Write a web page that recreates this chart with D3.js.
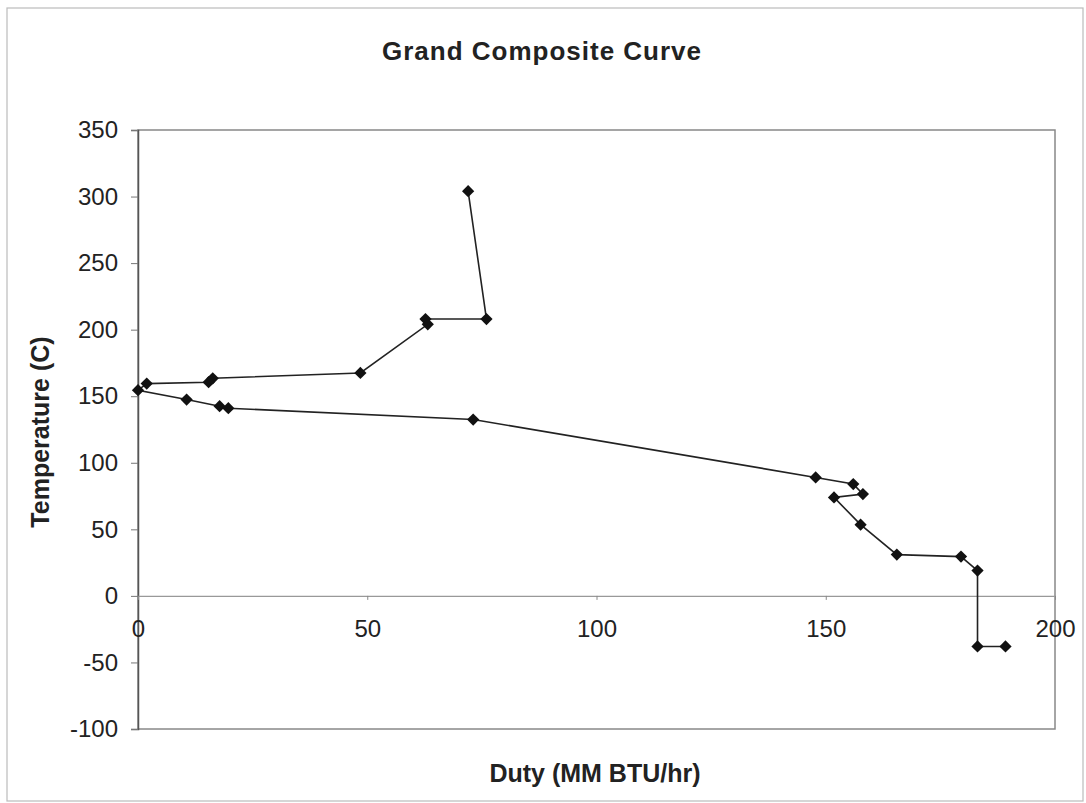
<!DOCTYPE html>
<html>
<head>
<meta charset="utf-8">
<script src="https://cdn.jsdelivr.net/npm/d3@7"></script>
<style>
  body { margin: 0; background: #fff; }
  text { font-family: "Liberation Sans", Arial, sans-serif; fill: #222; }
</style>
</head>
<body>
<div id="chart"></div>
<script>
// duty (MM BTU/hr) and temperature (C), in path order
const duty = [72, 76, 62.7, 63.2, 48.5, 16.3, 15.4, 1.9, 0, 10.6, 17.8, 19.7, 73.1,
    147.8, 156, 158.1, 151.8, 157.6, 165.5, 179.5, 183.1, 183.1, 189.2];
const temp = [304, 208, 208, 204, 167.5, 163.5, 160.5, 159.5, 154.5, 147.5, 142.5, 141, 132.5,
    89, 84, 76.5, 74, 53.5, 31, 29.5, 19, -38, -38];
const xTicks = [0, 50, 100, 150, 200];
const yTicks = [-100, -50, 0, 50, 100, 150, 200, 250, 300, 350];

const W = 1086, H = 803;
const plot = { left: 138, right: 1055, top: 130, bottom: 729 };

const svg = d3.select('#chart')
    .append('svg')
    .attr('width', W)
    .attr('height', H);

// outer chart frame
svg.append('rect')
    .attr('x', 7).attr('y', 8)
    .attr('width', 1076).attr('height', 793)
    .attr('fill', 'none')
    .attr('stroke', '#bbb')
    .attr('stroke-width', 1.2);

const x = d3.scaleLinear().domain([0, 200]).range([plot.left, plot.right]);
const y = d3.scaleLinear().domain([-100, 350]).range([plot.bottom, plot.top]);

// plot area border
svg.append('rect')
    .attr('x', plot.left).attr('y', plot.top)
    .attr('width', plot.right - plot.left)
    .attr('height', plot.bottom - plot.top)
    .attr('fill', 'none')
    .attr('stroke', '#888')
    .attr('stroke-width', 1.5);

const fmt = d => String(d); // plain hyphen for negatives

// y axis on the left
const yAxis = svg.append('g')
    .attr('transform', `translate(${plot.left},0)`)
    .call(d3.axisLeft(y).tickValues(yTicks).tickFormat(fmt).tickSize(7).tickPadding(13));
yAxis.select('.domain').attr('stroke', '#555').attr('stroke-width', 1.5);
yAxis.selectAll('.tick line').attr('stroke', '#777');
yAxis.selectAll('.tick text')
    .attr('font-size', 24)
    .attr('fill', '#222')
    .attr('font-family', '"Liberation Sans", Arial, sans-serif');

// x axis crosses at temperature 0
const xAxis = svg.append('g')
    .attr('transform', `translate(0,${y(0)})`)
    .call(d3.axisBottom(x).tickValues(xTicks).tickFormat(fmt).tickSize(4).tickPadding(20).tickSizeOuter(0));
xAxis.select('.domain').attr('stroke', '#999').attr('stroke-width', 1.2);
xAxis.selectAll('.tick line').attr('stroke', '#888');
xAxis.selectAll('.tick text')
    .attr('font-size', 24)
    .attr('fill', '#222')
    .attr('font-family', '"Liberation Sans", Arial, sans-serif');

const pts = duty.map((d, i) => [d, temp[i]]);

svg.append('path')
    .datum(pts)
    .attr('fill', 'none')
    .attr('stroke', '#222')
    .attr('stroke-width', 1.6)
    .attr('d', d3.line().x(d => x(d[0])).y(d => y(d[1])));

const diamond = d3.symbol().type(d3.symbolSquare).size(75);
svg.selectAll('path.pt')
    .data(pts)
    .join('path')
    .attr('class', 'pt')
    .attr('d', diamond)
    .attr('fill', '#111')
    .attr('transform', d => `translate(${x(d[0])},${y(d[1])}) rotate(45)`);

// titles
svg.append('text')
    .attr('x', 542).attr('y', 60)
    .attr('text-anchor', 'middle')
    .attr('font-size', 26)
    .attr('font-weight', 'bold')
    .attr('letter-spacing', 1)
    .text('Grand Composite Curve');

svg.append('text')
    .attr('x', 595).attr('y', 782)
    .attr('text-anchor', 'middle')
    .attr('font-size', 25)
    .attr('font-weight', 'bold')
    .text('Duty (MM BTU/hr)');

svg.append('text')
    .attr('transform', 'translate(49,432) rotate(-90)')
    .attr('text-anchor', 'middle')
    .attr('font-size', 25)
    .attr('font-weight', 'bold')
    .text('Temperature (C)');
</script>
</body>
</html>
